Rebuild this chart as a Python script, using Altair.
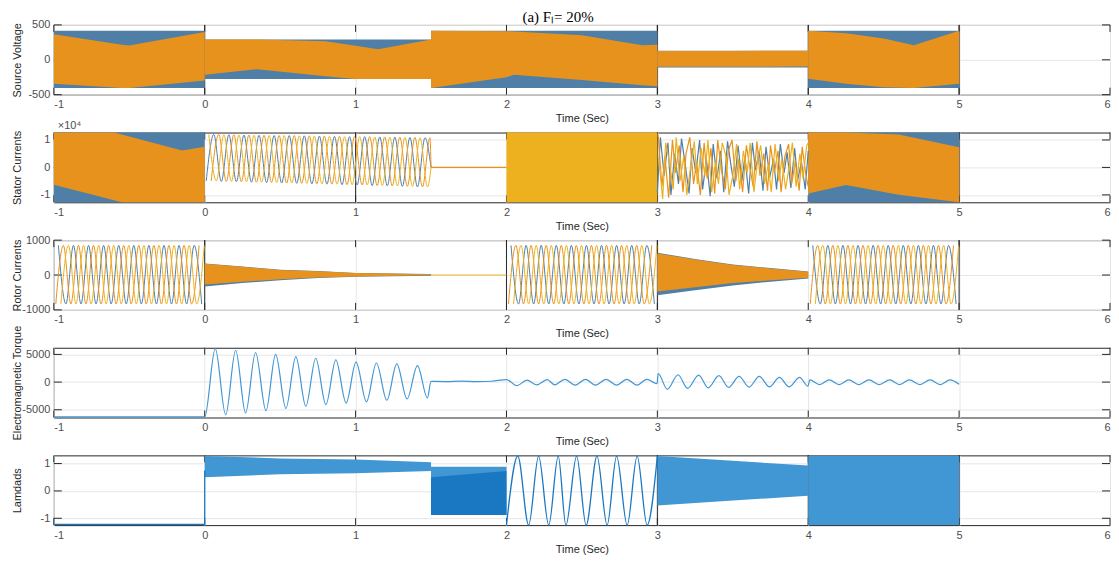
import altair as alt
import pandas as pd

# ---------------- data ----------------
fig_title = "(a) Fₗ= 20%"
x_ticks = [-1, 0, 1, 2, 3, 4, 5, 6]

# Panel 1  Source Voltage: dense three-phase bursts -> envelopes
sv_t = [[-1, 0], [0, 1.5], [1.5, 3], [3, 4], [4, 5]]
sv_lo = [[-405, -405], [-275, -275], [-405, -405], [-112, -112], [-405, -405]]
sv_hi = [[415, 415], [292, 292], [415, 415], [130, 130], [415, 415]]
sv_in_t = [[-1, -0.55, -0.5, 0], [0, 0.35, 0.8, 1.0, 1.15, 1.5],
           [1.5, 2.0, 2.05, 2.5, 2.9, 3.0], [3, 3.5, 4], [4, 4.25, 4.5, 4.7, 5]]
sv_in_lo = [[-343, -403, -403, -296], [-213, -134, -236, -275, -275, -275],
            [-405, -250, -215, -290, -365, -380], [-100, -100, -95], [-273, -343, -395, -405, -343]]
sv_in_hi = [[365, 215, 204, 398], [292, 292, 265, 200, 153, 292],
            [415, 410, 405, 351, 208, 215], [125, 128, 130], [415, 380, 305, 208, 415]]

# Panel 2  Stator Currents (x1e4)
sc_t = [[-1, 0], [4, 5]]
sc_lo = [[-1.27, -1.27], [-1.27, -1.27]]
sc_hi = [[1.27, 1.27], [1.27, 1.27]]
sc_in_t = [[-1, -0.6, -0.55, -0.15, 0], [4, 4.25, 4.6, 5]]
sc_in_lo = [[-0.63, -1.2, -1.27, -1.27, -1.27], [-0.95, -0.64, -1.0, -1.27]]
sc_in_hi = [[1.27, 1.27, 1.2, 0.62, 0.75], [1.27, 1.27, 1.2, 0.73]]
sc_block_t = [[2, 3]]
sc_block_lo = [[-1.27, -1.27]]
sc_block_hi = [[1.27, 1.27]]
sc_flat_t = [1.5, 2.0]
sc_flat_v = [0.0, 0.0]
# three-phase sinusoids 0..1.5 s: extremum times per phase and the envelope values
sc_peak_v = [1.2, 1.19, 1.18, 1.17, 1.16, 1.16, 1.15, 1.14, 1.13, 1.12, 1.12, 1.11, 1.1, 1.09, 1.08]
sc_trough_v = [-0.49, -0.51, -0.52, -0.54, -0.55, -0.57, -0.58, -0.6, -0.61, -0.63, -0.64, -0.66,
               -0.67, -0.69, -0.71]
sc_a_peak = [0.06, 0.16, 0.26, 0.36, 0.46, 0.56, 0.66, 0.76, 0.86, 0.96, 1.06, 1.16, 1.26, 1.36, 1.46]
sc_a_trough = [0.01, 0.11, 0.21, 0.31, 0.41, 0.51, 0.61, 0.71, 0.81, 0.91, 1.01, 1.11, 1.21, 1.31, 1.41]
sc_b_peak = [0.093, 0.193, 0.293, 0.393, 0.493, 0.593, 0.693, 0.793, 0.893, 0.993, 1.093, 1.193,
             1.293, 1.393, 1.493]
sc_b_trough = [0.043, 0.143, 0.243, 0.343, 0.443, 0.543, 0.643, 0.743, 0.843, 0.943, 1.043, 1.143,
               1.243, 1.343, 1.443]
sc_c_peak = [0.027, 0.127, 0.227, 0.327, 0.427, 0.527, 0.627, 0.727, 0.827, 0.927, 1.027, 1.127,
             1.227, 1.327, 1.427]
sc_c_trough = [0.077, 0.177, 0.277, 0.377, 0.477, 0.577, 0.677, 0.777, 0.877, 0.977, 1.077, 1.177,
               1.277, 1.377, 1.477]
# chaotic segment 3..4 s
sc_ch_b_t = [3.0, 3.02, 3.045, 3.07, 3.09, 3.115, 3.14, 3.16, 3.185, 3.21, 3.23, 3.255, 3.28, 3.3, 3.325,
             3.35, 3.37, 3.395, 3.42, 3.44, 3.465, 3.49, 3.51, 3.535, 3.56, 3.58, 3.605, 3.63, 3.65, 3.675,
             3.7, 3.72, 3.745, 3.77, 3.79, 3.815, 3.84, 3.86, 3.885, 3.91, 3.93, 3.955, 3.98, 4.0]
sc_ch_b_v = [-0.9, 1.1, -0.3, 0.9, -1.0, 0.5, -0.6, 1.05, 0.1, -0.95, 0.7, -0.2, 1.0, -0.8, 0.3,
             -1.05, 0.85, -0.4, 0.6, -0.9, 0.95, 0.0, -0.7, 0.8, -0.5, 0.4, -0.95, 0.9, -0.1, 0.6,
             -0.85, 0.75, -0.35, 0.3, -0.8, 0.85, -0.2, 0.55, -0.75, 0.7, -0.45, 0.2, -0.8, 0.6]
sc_ch_r_t = [3.005, 3.03, 3.05, 3.075, 3.1, 3.12, 3.145, 3.17, 3.19, 3.215, 3.24, 3.26, 3.285, 3.31, 3.33,
             3.355, 3.38, 3.4, 3.425, 3.45, 3.47, 3.495, 3.52, 3.54, 3.565, 3.59, 3.61, 3.635, 3.66, 3.68,
             3.705, 3.73, 3.75, 3.775, 3.8, 3.82, 3.845, 3.87, 3.89, 3.915, 3.94, 3.96, 3.985, 4.0]
sc_ch_r_v = [1.2, -0.7, 0.4, -1.1, 1.0, -0.2, 0.8, -0.9, 0.5, 1.1, -0.6, 0.2, -1.0, 0.9, -0.4,
             0.7, -0.95, 1.0, -0.1, -0.8, 0.6, 1.0, -0.5, 0.3, -0.9, 0.8, 0.1, -0.7, 0.95, -0.3,
             0.5, -0.85, 0.8, -0.2, 0.6, -0.9, 0.4, 0.85, -0.6, 0.2, -0.85, 0.75, -0.3, -0.7]
sc_ch_y_t = [3.01, 3.035, 3.055, 3.08, 3.105, 3.125, 3.15, 3.175, 3.195, 3.22, 3.245, 3.265, 3.29, 3.315,
             3.335, 3.36, 3.385, 3.405, 3.43, 3.455, 3.475, 3.5, 3.525, 3.545, 3.57, 3.595, 3.615, 3.64,
             3.665, 3.685, 3.71, 3.735, 3.755, 3.78, 3.805, 3.825, 3.85, 3.875, 3.895, 3.92, 3.945, 3.965,
             3.99, 4.0]
sc_ch_y_v = [0.3, -1.15, 0.9, 0.2, -0.8, 1.1, -0.5, 0.4, -1.0, 0.0, 0.95, -0.6, 0.7, -0.3, 1.0,
             -0.9, 0.2, -0.6, 0.9, 0.4, -1.0, -0.3, 0.85, -0.8, 0.6, -0.2, 0.9, -0.9, 0.3, 0.8,
             -0.6, 0.1, -0.9, 0.85, -0.5, 0.3, -0.8, 0.1, 0.9, -0.7, 0.5, -0.4, 0.8, 0.9]

# Panel 3  Rotor Currents
rc_t = [[0, 0.25, 0.5, 0.75, 1.0, 1.5], [3, 3.25, 3.5, 3.75, 4]]
rc_lo = [[-330, -230, -150, -85, -50, -20], [-580, -440, -300, -190, -100]]
rc_hi = [[330, 245, 150, 115, 60, 30], [640, 460, 300, 200, 100]]
rc_in_lo = [[-270, -190, -120, -70, -40, -10], [-470, -350, -230, -150, -75]]
rc_in_hi = [[320, 235, 145, 108, 55, 25], [620, 445, 290, 190, 92]]
rc_flat_t = [1.5, 2.0]
rc_flat_v = [0.0, 0.0]
rc_peak = 850
rc_trough = -830
rc_a_peak = [[-0.97, -0.87, -0.77, -0.67, -0.57, -0.47, -0.37, -0.27, -0.17, -0.07],
             [2.03, 2.13, 2.23, 2.33, 2.43, 2.53, 2.63, 2.73, 2.83, 2.93],
             [4.03, 4.13, 4.23, 4.33, 4.43, 4.53, 4.63, 4.73, 4.83, 4.93]]
rc_a_trough = [[-0.92, -0.82, -0.72, -0.62, -0.52, -0.42, -0.32, -0.22, -0.12, -0.02],
               [2.08, 2.18, 2.28, 2.38, 2.48, 2.58, 2.68, 2.78, 2.88, 2.98],
               [4.08, 4.18, 4.28, 4.38, 4.48, 4.58, 4.68, 4.78, 4.88, 4.98]]
rc_b_peak = [[-0.937, -0.837, -0.737, -0.637, -0.537, -0.437, -0.337, -0.237, -0.137, -0.037],
             [2.063, 2.163, 2.263, 2.363, 2.463, 2.563, 2.663, 2.763, 2.863, 2.963],
             [4.063, 4.163, 4.263, 4.363, 4.463, 4.563, 4.663, 4.763, 4.863, 4.963]]
rc_b_trough = [[-0.987, -0.887, -0.787, -0.687, -0.587, -0.487, -0.387, -0.287, -0.187, -0.087],
               [2.013, 2.113, 2.213, 2.313, 2.413, 2.513, 2.613, 2.713, 2.813, 2.913],
               [4.013, 4.113, 4.213, 4.313, 4.413, 4.513, 4.613, 4.713, 4.813, 4.913]]
rc_c_peak = [[-0.903, -0.803, -0.703, -0.603, -0.503, -0.403, -0.303, -0.203, -0.103, -0.003],
             [2.097, 2.197, 2.297, 2.397, 2.497, 2.597, 2.697, 2.797, 2.897, 2.997],
             [4.097, 4.197, 4.297, 4.397, 4.497, 4.597, 4.697, 4.797, 4.897, 4.997]]
rc_c_trough = [[-0.953, -0.853, -0.753, -0.653, -0.553, -0.453, -0.353, -0.253, -0.153, -0.053],
               [2.047, 2.147, 2.247, 2.347, 2.447, 2.547, 2.647, 2.747, 2.847, 2.947],
               [4.047, 4.147, 4.247, 4.347, 4.447, 4.547, 4.647, 4.747, 4.847, 4.947]]

# Panel 4  Electromagnetic Torque
tq_t = [-1, 0.0, 0.07, 0.139, 0.205, 0.271, 0.337, 0.406, 0.47, 0.538, 0.604, 0.67, 0.736, 0.803,
        0.869, 0.937, 1.003, 1.072, 1.138, 1.207, 1.273, 1.341, 1.41, 1.476, 1.5, 1.6, 1.7, 1.8, 1.9,
        2.0, 2.07, 2.135, 2.2, 2.27, 2.32, 2.387, 2.455, 2.524, 2.59, 2.66, 2.73, 2.797, 2.865, 2.93,
        2.998, 3.005, 3.066, 3.137, 3.2, 3.274, 3.337, 3.408, 3.472, 3.542, 3.608, 3.675, 3.743, 3.809,
        3.873, 3.943, 3.998, 4.01, 4.075, 4.139, 4.205, 4.269, 4.335, 4.403, 4.47, 4.54, 4.605, 4.67,
        4.74, 4.807, 4.875, 4.94, 5.0]
tq_v = [-6300, -6300, 6030, -5920, 5750, -5570, 5345, -5170, 5000, -4770, 4600, -4370, 4310, -4080,
        4020, -3790, 3620, -3560, 3450, -3280, 3280, -3050, 2990, -2870, 115, 100, 180, 100, 150,
        450, -650, 350, -500, 450, -500, 500, -550, 500, -550, 500, -550, 500, -550, 500,
        -300, 1550, -1300, 1320, -1150, 1260, -1030, 1150, -970, 1030, -920, 1030, -860, 860,
        -860, 860, -750, 400, -450, 400, -450, 400, -450, 400, -450, 400, -450, 400,
        -450, 400, -450, 400, -400]

# Panel 5  Lamdads
la_flat_t = [-1, 0, 0]
la_flat_v = [-1.22, -1.22, 0.75]
la_t = [[0, 0.5, 1.0, 1.5], [1.5, 2.0], [3, 3.5, 4], [4, 5]]
la_lo = [[0.5, 0.61, 0.65, 0.73], [-0.88, -0.88], [-0.53, -0.35, -0.18], [-1.25, -1.25]]
la_hi = [[1.28, 1.19, 1.15, 1.05], [0.88, 0.88], [1.28, 1.1, 0.93], [1.28, 1.28]]
la_core_t = [[1.5, 2.0]]
la_core_lo = [[-0.88, -0.88]]
la_core_hi = [[0.5, 0.73]]
la_sin_t = [2.0, 2.075, 2.147, 2.213, 2.28, 2.343, 2.394, 2.465, 2.528, 2.6, 2.667, 2.73, 2.8,
            2.866, 2.932, 3.0]
la_sin_v = [-1.25, 1.27, -1.25, 1.27, -1.25, 1.27, -1.25, 1.27, -1.25, 1.27, -1.25, 1.27, -1.25,
            1.27, -1.25, 1.27]

# ---------------- styling ----------------
W, H = 1060, 70
BLUE, RED, YEL = "#0072BD", "#D95319", "#EDB120"
kind_dom = ["outer", "inner", "block", "lam", "lamcore"]
kind_rng = ["#4f7fa6", "#E8921E", "#EDB120", "#4196d4", "#1a78c2"]
FRAME = "#262626"


def env_df(ts, los, his, kind, tag):
    rows = []
    for i, (t, lo, hi) in enumerate(zip(ts, los, his)):
        for a, b, c in zip(t, lo, hi):
            rows.append({"t": a, "lo": b, "hi": c, "grp": f"{tag}{i}", "kind": kind})
    return pd.DataFrame(rows)


def line_df(ts, vs, phase, tag):
    return pd.DataFrame({"t": ts, "v": vs, "phase": phase, "grp": tag, "i": list(range(len(ts)))})


def phase_df(pk_t, pk_v, tr_t, tr_v, phase, tag, tail=None):
    pts = sorted(list(zip(pk_t, pk_v)) + list(zip(tr_t, tr_v)))
    if tail:
        pts += tail
    return line_df([p[0] for p in pts], [p[1] for p in pts], phase, tag)


neg_fix = "datum.value < 0 ? '-' + format(-datum.value, 'd') : format(datum.value, 'd')"
X_SCALE = alt.Scale(domain=[-1, 6], nice=False, zero=False)
X_AXIS = alt.Axis(values=x_ticks, title="Time (Sec)", labelExpr=neg_fix)


def xenc():
    return alt.X("t:Q", scale=X_SCALE, axis=X_AXIS)


def yenc(field, dom, ticks, title):
    return alt.Y(f"{field}:Q", scale=alt.Scale(domain=dom, nice=False, zero=False),
                 axis=alt.Axis(values=ticks, title=title, labelExpr=neg_fix,
                               titleX=-31, titleY=H / 2))


kind_color = alt.Color("kind:N", scale=alt.Scale(domain=kind_dom, range=kind_rng), legend=None)
phase_color = alt.Color("phase:N", scale=alt.Scale(domain=["a", "b", "c", "t", "l"],
                                                   range=[BLUE, RED, YEL, "#1f84d0", "#3f9ade"]),
                        legend=None)


def areas(df, dom, ticks, title):
    return alt.Chart(df).mark_area(interpolate="linear").encode(
        x=xenc(), y=yenc("lo", dom, ticks, title), y2="hi:Q", color=kind_color, detail="grp:N")


def lines(df, dom, ticks, title, interp="linear", width=1.2):
    return alt.Chart(df).mark_line(interpolate=interp, strokeWidth=width).encode(
        x=xenc(), y=yenc("v", dom, ticks, title), color=phase_color, detail="grp:N",
        order="i:Q")


def frame_bits(dom, ticks, title, dark):
    tx = pd.DataFrame({"t": x_ticks})
    ty = pd.DataFrame({"yv": ticks})
    ys = yenc("yv", dom, ticks, title)
    bits = [
        alt.Chart(tx).mark_rule(color=FRAME).encode(x=xenc(), y=alt.value(0), y2=alt.value(7)),
        alt.Chart(tx).mark_rule(color=FRAME).encode(x=xenc(), y=alt.value(H - 7), y2=alt.value(H)),
        alt.Chart(ty).mark_rule(color=FRAME).encode(y=ys, x=alt.value(0), x2=alt.value(8)),
        alt.Chart(ty).mark_rule(color=FRAME).encode(y=ys, x=alt.value(W - 8), x2=alt.value(W)),
    ]
    if dark:
        bits.append(alt.Chart(pd.DataFrame({"t": dark})).mark_rule(color=FRAME).encode(
            x=xenc(), y=alt.value(0), y2=alt.value(H)))
    return bits


# ---- panel 1
d1 = ([-500, 500], [-500, 0, 500], "Source Voltage")
p1 = alt.layer(
    *frame_bits(*d1, [0, 3, 4, 5]),
    areas(env_df(sv_t, sv_lo, sv_hi, "outer", "o"), *d1),
    areas(env_df(sv_in_t, sv_in_lo, sv_in_hi, "inner", "n"), *d1),
    alt.Chart(pd.DataFrame({"txt": [fig_title]})).mark_text(
        font="Liberation Serif", fontSize=15, baseline="alphabetic", align="center",
        color="black").encode(text="txt:N", x=alt.value(506), y=alt.value(-3)),
).properties(width=W, height=H)

# ---- panel 2
d2 = ([-1.27, 1.27], [-1, 0, 1], "Stator Currents")
sc_lines = pd.concat([
    line_df(sc_flat_t, sc_flat_v, "b", "f"),
    line_df(sc_ch_b_t, sc_ch_b_v, "a", "cb"),
    line_df(sc_ch_r_t, sc_ch_r_v, "b", "cr"),
    line_df(sc_ch_y_t, sc_ch_y_v, "c", "cy"),
])
sc_sines = pd.concat([
    phase_df(sc_a_peak, sc_peak_v, sc_a_trough, sc_trough_v, "a", "sa", [(1.5, 0.0)]),
    phase_df(sc_b_peak, sc_peak_v, sc_b_trough, sc_trough_v, "b", "sb", [(1.5, 0.0)]),
    phase_df(sc_c_peak, sc_peak_v, sc_c_trough, sc_trough_v, "c", "sc", [(1.5, 0.0)]),
])
p2 = alt.layer(
    *frame_bits(*d2, [1, 3, 5]),
    areas(env_df(sc_t, sc_lo, sc_hi, "outer", "o"), *d2),
    areas(env_df(sc_in_t, sc_in_lo, sc_in_hi, "inner", "n"), *d2),
    areas(env_df(sc_block_t, sc_block_lo, sc_block_hi, "block", "k"), *d2),
    lines(sc_lines, *d2, width=1.2),
    lines(sc_sines, *d2, interp="monotone", width=1.0),
    alt.Chart(pd.DataFrame({"txt": ["×10⁴"]})).mark_text(
        fontSize=11, baseline="bottom", align="left", color="#4d4d4d").encode(
        text="txt:N", x=alt.value(4), y=alt.value(-2)),
).properties(width=W, height=H)

# ---- panel 3
d3 = ([-1000, 1000], [-1000, 0, 1000], "Rotor Currents")
rc_parts = []
for s in range(3):
    for ph, pk, tr in (("a", rc_a_peak, rc_a_trough), ("b", rc_b_peak, rc_b_trough),
                       ("c", rc_c_peak, rc_c_trough)):
        rc_parts.append(phase_df(pk[s], [rc_peak] * len(pk[s]), tr[s], [rc_trough] * len(tr[s]),
                                 ph, f"r{ph}{s}"))
p3 = alt.layer(
    *frame_bits(*d3, [0, 2, 3, 5]),
    areas(env_df(rc_t, rc_lo, rc_hi, "outer", "o"), *d3),
    areas(env_df(rc_t, rc_in_lo, rc_in_hi, "inner", "n"), *d3),
    lines(line_df(rc_flat_t, rc_flat_v, "c", "f"), *d3),
    lines(pd.concat(rc_parts), *d3, interp="monotone", width=1.0),
).properties(width=W, height=H)

# ---- panel 4
d4 = ([-6400, 6200], [-5000, 0, 5000], "Electromagnetic Torque")
p4 = alt.layer(
    *frame_bits(*d4, []),
    lines(line_df(tq_t, tq_v, "t", "tq"), *d4, interp="monotone", width=1.2),
).properties(width=W, height=H)

# ---- panel 5
d5 = ([-1.25, 1.3], [-1, 0, 1], "Lamdads")
p5 = alt.layer(
    *frame_bits(*d5, [3, 4, 5]),
    areas(env_df(la_t, la_lo, la_hi, "lam", "l"), *d5),
    areas(env_df(la_core_t, la_core_lo, la_core_hi, "lamcore", "c"), *d5),
    lines(pd.concat([line_df(la_flat_t, la_flat_v, "l", "f"),
                     line_df(la_sin_t, la_sin_v, "l", "s")]), *d5, interp="monotone", width=1.3),
).properties(width=W, height=H)

chart = alt.vconcat(p1, p2, p3, p4, p5, spacing=38).properties(
    bounds="flush",
    padding={"left": 3, "top": 0, "right": 0, "bottom": 0},
).resolve_scale(y="independent").configure_view(
    stroke=FRAME, strokeWidth=1
).configure_axis(
    labelFont="Liberation Sans", titleFont="Liberation Sans",
    labelFontSize=11, titleFontSize=11, titleFontWeight="normal",
    labelColor="#4d4d4d", titleColor="#262626",
    domain=False, ticks=False, grid=True, gridColor="#e6e6e6", gridWidth=1,
    labelPadding=4, titlePadding=3,
).configure_text(font="Liberation Sans")

chart.save("out.html", embed_options={"renderer": "svg", "actions": False})
